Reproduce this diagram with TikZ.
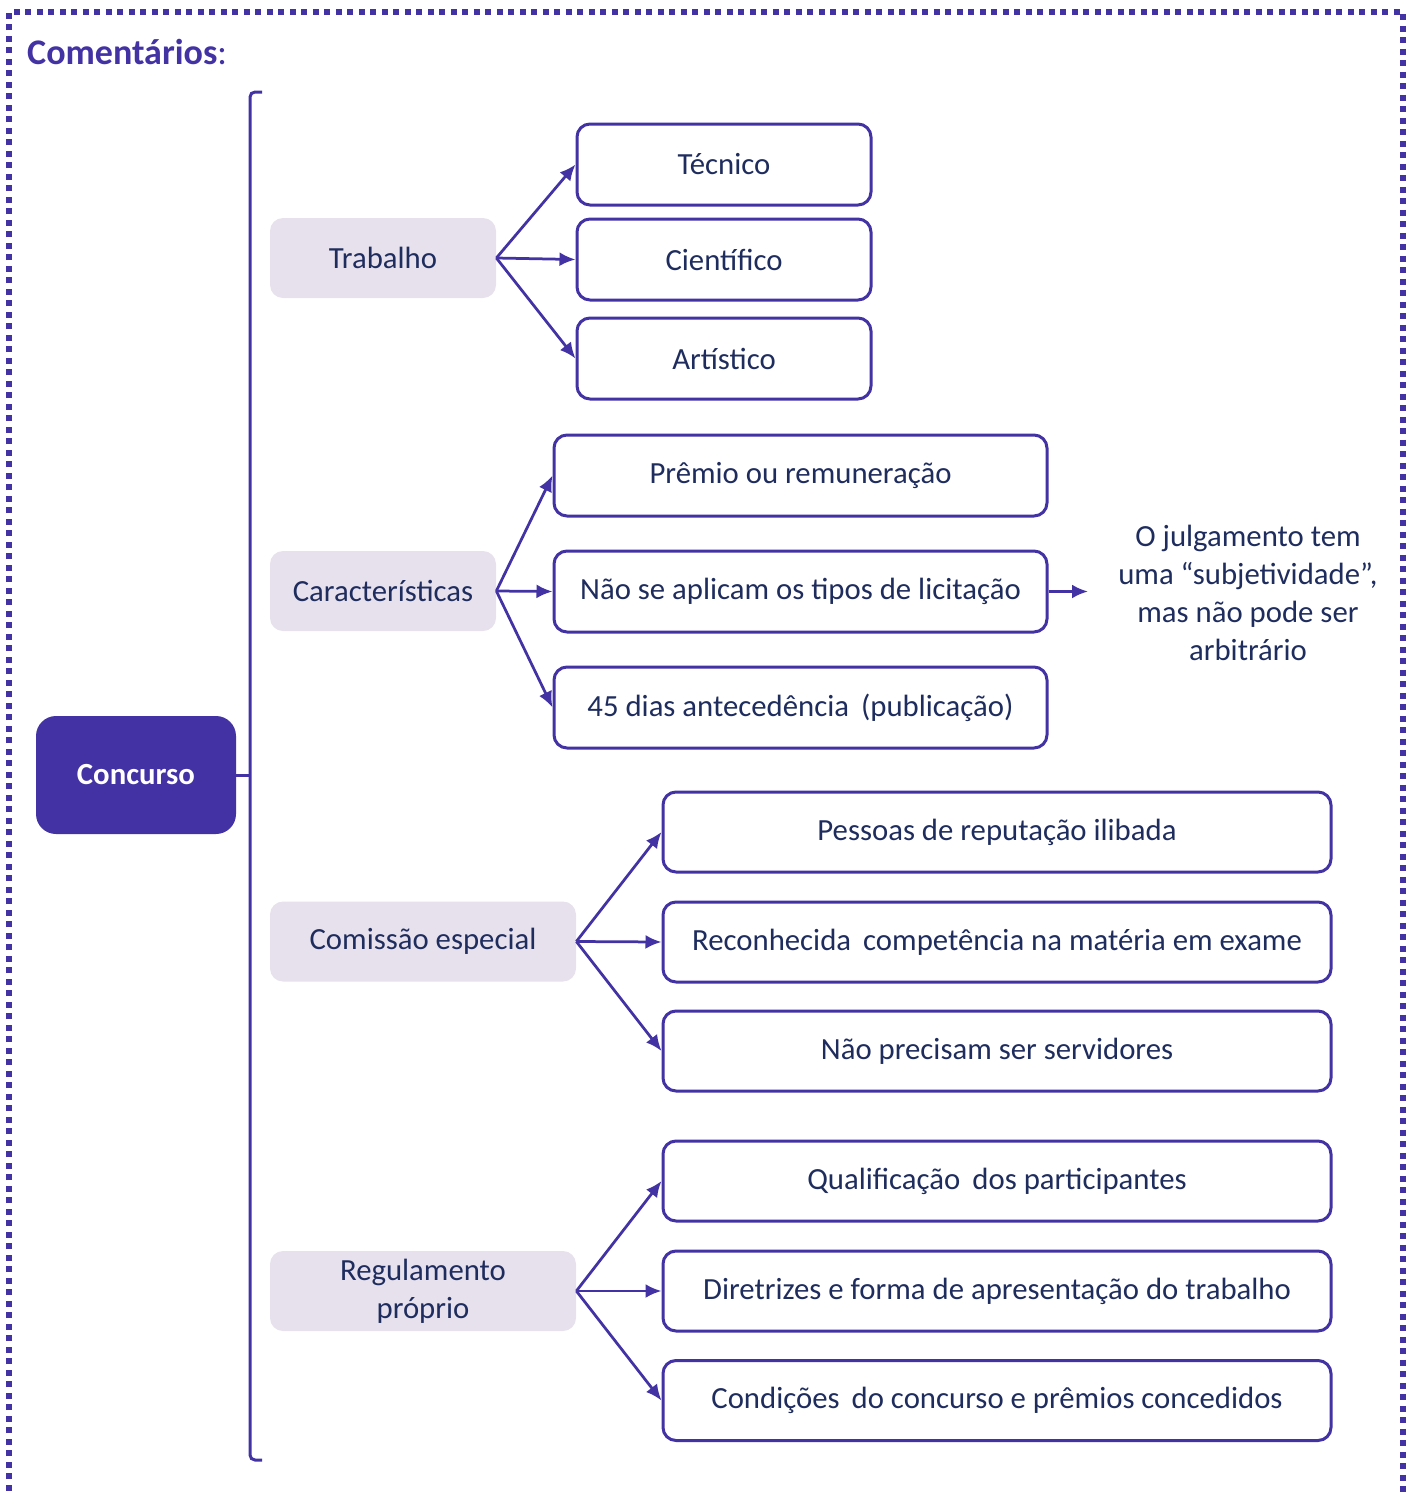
\documentclass[tikz,border=0pt]{standalone}
\usepackage{fontspec}
\setmainfont{Carlito}
\usepackage{tikz}
\usetikzlibrary{arrows.meta}
\definecolor{roxo}{HTML}{4232A3}
\definecolor{cinza}{HTML}{E6E1EC}
\definecolor{azul}{HTML}{1F2D5E}
\tikzstyle{opt}=[draw=roxo,line width=0.06cm,rounded corners=0.26cm,fill=white,text=azul,minimum height=1.62cm,inner sep=1pt]
\tikzstyle{cat}=[fill=cinza,rounded corners=0.26cm,text=azul,minimum height=1.6cm,align=center,inner sep=1pt]
\tikzstyle{seta}=[->,draw=roxo,line width=0.055cm]

\begin{document}
\begin{tikzpicture}[>={Latex[length=0.32cm,width=0.28cm]},font=\fontsize{17.5}{21.5}\selectfont]
\useasboundingbox (0,0) rectangle (28.2,-29.9);
\draw[roxo,line width=0.12cm,dash pattern=on 0.12cm off 0.11cm] (0.18,-30.5) -- (0.18,-0.24) -- (28.06,-0.24) -- (28.06,-30.5);
\node[anchor=west,text=roxo,font=\fontsize{20.5}{24}\selectfont] (titulo) at (0.42,-1.04) {\textbf{Comentários}:};

\node[fill=roxo,rounded corners=0.4cm,text=white,minimum width=4.0cm,minimum height=2.36cm] (conc) at (2.72,-15.5) {\textbf{Concurso}};
\draw[roxo,line width=0.06cm,rounded corners=0.1cm] (5.24,-1.84) -- (5.0,-1.84) -- (5.0,-29.2) -- (5.24,-29.2);
\coordinate (chave) at (5.0,-15.5);
\draw[roxo,line width=0.06cm] (conc.east) -- (chave);

\node[cat,minimum width=4.52cm] (trab) at (7.66,-5.16) {Trabalho};
\node[cat,minimum width=4.52cm] (carac) at (7.66,-11.82) {Características};
\node[cat,minimum width=6.12cm] (comis) at (8.46,-18.83) {Comissão especial};
\node[cat,minimum width=6.12cm] (regul) at (8.46,-25.82) {Regulamento\\próprio};

\node[opt,minimum width=5.88cm] (tec) at (14.48,-3.29) {Técnico};
\node[opt,minimum width=5.88cm] (cien) at (14.48,-5.19) {Científico};
\node[opt,minimum width=5.88cm] (art) at (14.48,-7.17) {Artístico};

\node[opt,minimum width=9.86cm] (prem) at (16.01,-9.51) {Prêmio ou remuneração};
\node[opt,minimum width=9.86cm] (naoap) at (16.01,-11.83) {Não se aplicam os tipos de licitação};
\node[opt,minimum width=9.86cm] (dias) at (16.01,-14.15) {45 dias antecedência \,(publicação)};

\node[opt,minimum width=13.36cm,minimum height=1.6cm] (pess) at (19.94,-16.64) {Pessoas de reputação ilibada};
\node[opt,minimum width=13.36cm,minimum height=1.6cm] (recon) at (19.94,-18.84) {Reconhecida \,competência na matéria em exame};
\node[opt,minimum width=13.36cm,minimum height=1.6cm] (naopr) at (19.94,-21.02) {Não precisam ser servidores};

\node[opt,minimum width=13.36cm,minimum height=1.6cm] (qual) at (19.94,-23.62) {Qualificação \,dos participantes};
\node[opt,minimum width=13.36cm,minimum height=1.6cm] (dir) at (19.94,-25.82) {Diretrizes e forma de apresentação do trabalho};
\node[opt,minimum width=13.36cm,minimum height=1.6cm] (cond) at (19.94,-28.01) {Condições \,do concurso e prêmios concedidos};

\node[text=azul,align=center,inner sep=0pt] (julg) at (24.96,-11.86) {O julgamento tem\\uma “subjetividade”,\\mas não pode ser\\arbitrário};
\coordinate (fim) at (21.76,-11.83);

\draw[seta] (trab.east) -- (tec.west);
\draw[seta] (trab.east) -- (cien.west);
\draw[seta] (trab.east) -- (art.west);
\draw[seta] (carac.east) -- (prem.west);
\draw[seta] (carac.east) -- (naoap.west);
\draw[seta] (carac.east) -- (dias.west);
\draw[seta] (comis.east) -- (pess.west);
\draw[seta] (comis.east) -- (recon.west);
\draw[seta] (comis.east) -- (naopr.west);
\draw[seta] (regul.east) -- (qual.west);
\draw[seta] (regul.east) -- (dir.west);
\draw[seta] (regul.east) -- (cond.west);
\draw[seta] (naoap.east) -- (fim);
\end{tikzpicture}
\end{document}
